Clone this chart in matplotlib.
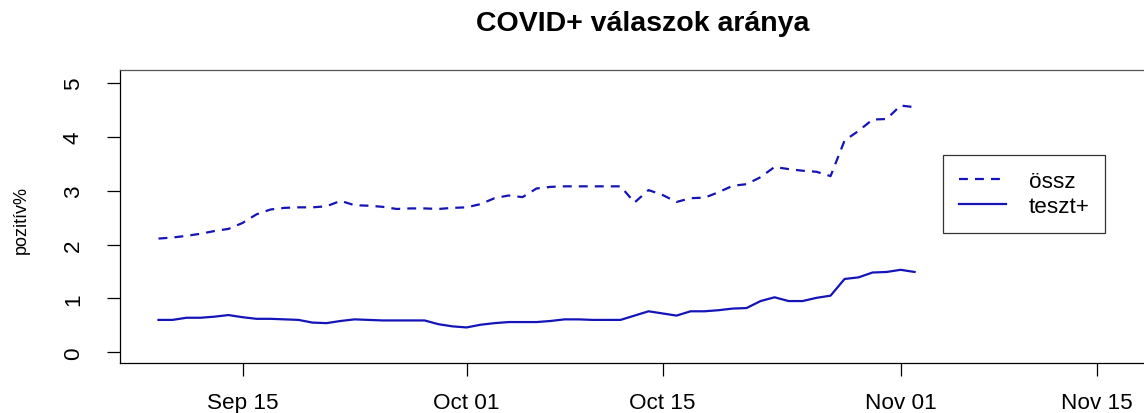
import numpy as np
import pandas as pd
import matplotlib
matplotlib.use("Agg")
import matplotlib.pyplot as plt
import matplotlib.dates as mdates

plt.rcParams['font.family'] = ['Liberation Sans', 'DejaVu Sans']

# napi adatok, 2020-09-09 -> 2020-11-02
start = '2020-09-09'
ossz = [2.11, 2.13, 2.16, 2.20, 2.25, 2.29, 2.40, 2.56, 2.65, 2.68,
        2.69, 2.69, 2.71, 2.81, 2.73, 2.72, 2.70, 2.66, 2.67, 2.67,
        2.66, 2.68, 2.69, 2.75, 2.86, 2.91, 2.88, 3.04, 3.07, 3.08,
        3.08, 3.08, 3.08, 3.08, 2.78, 3.01, 2.92, 2.79, 2.86, 2.87,
        2.97, 3.09, 3.12, 3.25, 3.44, 3.40, 3.37, 3.35, 3.27, 3.93,
        4.11, 4.32, 4.33, 4.58, 4.55]
teszt = [0.60, 0.60, 0.64, 0.64, 0.66, 0.69, 0.65, 0.62, 0.62, 0.61,
         0.60, 0.55, 0.54, 0.58, 0.61, 0.60, 0.59, 0.59, 0.59, 0.59,
         0.52, 0.48, 0.46, 0.51, 0.54, 0.56, 0.56, 0.56, 0.58, 0.61,
         0.61, 0.60, 0.60, 0.60, 0.68, 0.76, 0.72, 0.68, 0.76, 0.76,
         0.78, 0.81, 0.82, 0.95, 1.02, 0.95, 0.95, 1.01, 1.05, 1.36,
         1.39, 1.48, 1.49, 1.53, 1.49]
labels = ['össz', 'teszt+']
xticks = ['2020-09-15', '2020-10-01', '2020-10-15', '2020-11-01', '2020-11-15']

dates = pd.date_range(start, periods=len(ossz), freq='D')
col = '#1414b8'

fig = plt.figure(figsize=(11.44, 4.14), dpi=100)
# plot terulet jobbra kilog a kepbol (mint az eredetin)
ax = fig.add_axes([0.1049, 0.1208, 0.9135, 0.7077])

ax.plot(dates, ossz, color=col, lw=1.6, dashes=(4, 3.2), label=labels[0])
ax.plot(dates, teszt, color=col, lw=1.6, label=labels[1])

left = pd.Timestamp('2020-09-06 06:00')
ax.set_xlim(left, left + pd.Timedelta(days=74.64))
ax.set_ylim(-0.2, 5.24)

ax.set_xticks(pd.to_datetime(xticks))
ax.xaxis.set_major_formatter(mdates.DateFormatter('%b %d'))
ax.set_yticks(range(6))

for s in ax.spines.values():
    s.set_linewidth(0.9)
    s.set_color('black')
ax.spines['top'].set_color('#555555')

ax.tick_params(axis='both', length=9.5, width=0.9, labelsize=16.2)
ax.tick_params(axis='x', pad=11.5)
ax.tick_params(axis='y', pad=16.5, labelrotation=90)
for t in ax.get_yticklabels():
    t.set_va('center')

ax.set_title('COVID+ válaszok aránya', fontsize=20.5, fontweight='bold', pad=29)
fig.text(21 / 1144, 1 - 220 / 414, 'pozitív%', rotation=90,
         ha='center', va='center', fontsize=13)

leg = ax.legend(loc='upper left', bbox_to_anchor=(943 / 1144, 1 - 156 / 414),
                bbox_transform=fig.transFigure, fontsize=16.2, frameon=True,
                fancybox=False, edgecolor='black', handlelength=2.1,
                handletextpad=1.0, borderpad=0.7, labelspacing=0.2,
                borderaxespad=0)
leg.get_frame().set_linewidth(0.9)

fig.savefig('out.png', dpi=100)
